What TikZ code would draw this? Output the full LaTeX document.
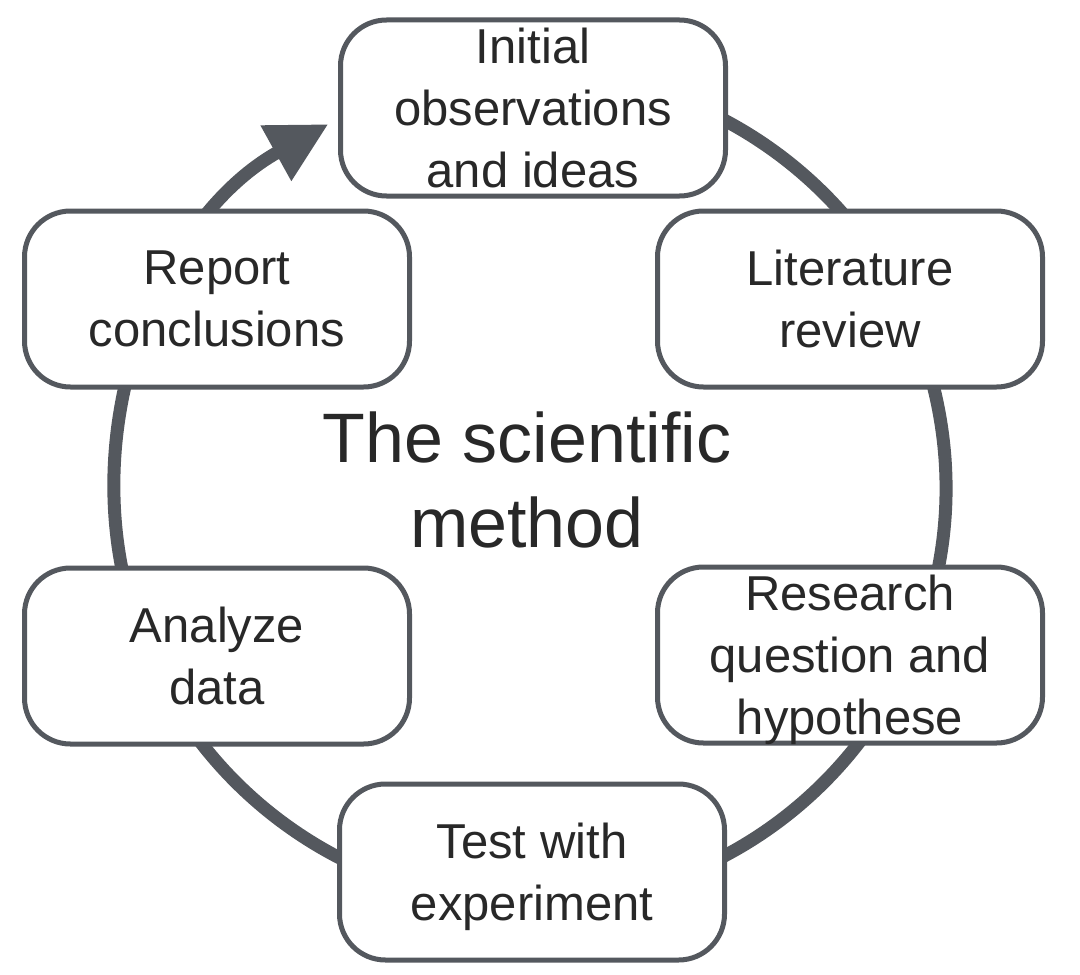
\documentclass[tikz,border=0pt]{standalone}
\usepackage{fontspec}
\setmainfont{Liberation Sans}
\usepackage{xcolor}
\definecolor{ring}{RGB}{84,88,94}
\definecolor{ink}{RGB}{40,40,40}
\usepackage{tikz}
\usetikzlibrary{calc}
\usetikzlibrary{arrows.meta}

\begin{document}
\begin{tikzpicture}[x=0.75pt,y=-0.75pt]
    \useasboundingbox (0,0) rectangle (1080,974);
    \coordinate (c) at (530,488);
    \tikzstyle{every node}=[text=ink]
    \tikzstyle{stage}=[draw=ring, line width=3.75pt, fill=white,
      rounded corners=34.5pt, inner sep=0pt,
      minimum width=288.75pt, minimum height=132pt,
      align=center, text depth=0pt,
      font=\fontsize{36.75pt}{46.5pt}\selectfont]

    % the cycle, drawn first so the boxes sit on it (y points down here)
    \draw [color=ring, line width=9.75pt,
      -{Triangle[length=45pt,width=45pt]}]
      ($(c)+(-100:416)$) arc (-100:241:416);

    \node[stage] (init) at (533,108) {Initial\\observations\\and ideas};
    \node[stage] (lit) at (850,299) {Literature\\review};
    \node[stage] (res) at (850,655) {Research\\question and\\hypothese};
    \node[stage] (test) at (532,872) {Test with\\experiment};
    \node[stage] (ana) at (217,656) {Analyze\\data};
    \node[stage] (rep) at (217,299) {Report\\conclusions};

    \node[align=center, text depth=0pt,
      font=\fontsize{52.5pt}{63.75pt}\selectfont] (title) at (527,480)
      {The scientific\\method};
\end{tikzpicture}
\end{document}
